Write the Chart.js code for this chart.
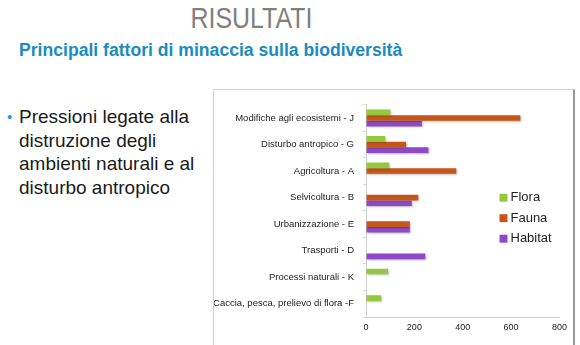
<!DOCTYPE html>
<html>
<head>
<meta charset="utf-8">
<script src="https://cdn.jsdelivr.net/npm/chart.js@4/dist/chart.umd.min.js"></script>
<style>
  html, body { margin: 0; padding: 0; background: #fff; }
  body { width: 580px; height: 345px; position: relative; overflow: hidden; font-family: "Liberation Sans", Arial, sans-serif; }
  .title { position: absolute; left: 0; width: 503px; top: 2px; text-align: center; font-size: 29px; color: #7f7f7f; transform: scaleX(0.86); transform-origin: 251px 0; }
  .subtitle { position: absolute; left: 19px; top: 40px; font-size: 17.6px; font-weight: bold; color: #1a8cc0; white-space: nowrap; }
  .bullet { position: absolute; left: 19px; top: 105px; width: 190px; font-size: 19px; line-height: 23.5px; color: #1a1a1a; }
  .bullet::before { content: "•"; position: absolute; left: -12px; top: 0; color: #2a9fd6; font-size: 15px; }
  .box { position: absolute; left: 213px; top: 89px; width: 359px; height: 260px; border-left: 1px solid #d4d4d4; border-top: 1px solid #d4d4d4; border-right: 2px solid #9a9a9a; }
  #chart { position: absolute; left: 214px; top: 90px; }
</style>
</head>
<body>
<div class="title">RISULTATI</div>
<div class="subtitle">Principali fattori di minaccia sulla biodiversità</div>
<div class="bullet">Pressioni legate alla distruzione degli ambienti naturali e al disturbo antropico</div>
<div class="box"></div>
<canvas id="chart" width="358" height="255"></canvas>
<script>
const categories = [
  'Modifiche agli ecosistemi - J',
  'Disturbo antropico - G',
  'Agricoltura - A',
  'Selvicoltura - B',
  'Urbanizzazione - E',
  'Trasporti - D',
  'Processi naturali - K',
  'Caccia, pesca, prelievo di flora -F'
];
const flora   = [100,  79,  96, null, null, null,  91,  62];
const fauna   = [638, 166, 373,  216,  181, null, null, null];
const habitat = [231, 258, null, 189,  181,  245, null, null];
const xTicks = [0, 200, 400, 600, 800];

const seriesNames = ['Flora', 'Fauna', 'Habitat'];
const seriesColors = ['#94c83d', '#c4561a', '#8e48c8'];

// soft drop shadow under the bars
const barShadow = {
  id: 'barShadow',
  beforeDatasetsDraw(chart) {
    const c = chart.ctx;
    c.save();
    c.shadowColor = 'rgba(0,0,0,0.28)';
    c.shadowOffsetX = 1;
    c.shadowOffsetY = 1;
    c.shadowBlur = 2;
  },
  afterDatasetsDraw(chart) {
    chart.ctx.restore();
  }
};

// legend floating inside the plot, right side
const floatLegend = {
  id: 'floatLegend',
  afterDraw(chart) {
    const c = chart.ctx;
    const area = chart.chartArea;
    c.save();
    c.font = '13px "Liberation Sans", Arial, sans-serif';
    c.textBaseline = 'middle';
    chart.data.datasets.forEach((ds, i) => {
      const x = area.right - 60;
      const y = area.top + 93 + i * 20.5;
      c.fillStyle = ds.backgroundColor;
      c.fillRect(x, y - 4, 8, 8);
      c.fillStyle = '#222';
      c.fillText(ds.label, x + 11, y);
    });
    c.restore();
  }
};

new Chart(document.getElementById('chart'), {
  type: 'bar',
  data: {
    labels: categories,
    datasets: [flora, fauna, habitat].map((values, i) => ({
      label: seriesNames[i],
      data: values,
      backgroundColor: seriesColors[i],
      categoryPercentage: 0.64,
      barPercentage: 1.0
    }))
  },
  options: {
    indexAxis: 'y',
    responsive: false,
    animation: false,
    layout: { padding: { top: 7, right: 9, bottom: 0, left: 0 } },
    plugins: {
      legend: { display: false },
      tooltip: { enabled: false }
    },
    scales: {
      x: {
        min: 0,
        max: 800,
        afterBuildTicks: (axis) => { axis.ticks = xTicks.map(v => ({ value: v })); },
        afterFit: (axis) => { axis.height = 28; },
        ticks: { color: '#222', padding: 5, font: { size: 9, family: '"Liberation Sans", Arial, sans-serif' } },
        grid: { drawOnChartArea: false, drawTicks: false },
        border: { color: '#cfcfcf' }
      },
      y: {
        afterFit: (axis) => { axis.width = 152; },
        ticks: { color: '#222', padding: 9, font: { size: 9.5, family: '"Liberation Sans", Arial, sans-serif' } },
        grid: { drawOnChartArea: false, tickLength: 3, color: '#d6d6d6', offset: true },
        border: { color: '#cfcfcf' }
      }
    }
  },
  plugins: [barShadow, floatLegend]
});
</script>
</body>
</html>
